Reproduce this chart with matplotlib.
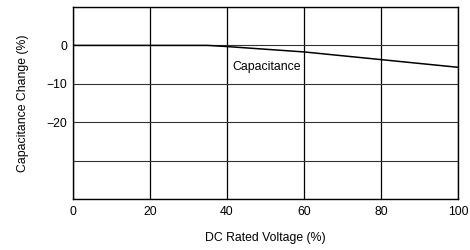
import matplotlib
matplotlib.use('Agg')
import matplotlib.pyplot as plt

VOLTAGE = [0, 20, 35, 40, 60, 80, 100]
CAP_CHANGE = [0, 0, 0, -0.3, -1.7, -3.7, -5.7]
X_TICKS = [0, 20, 40, 60, 80, 100]
Y_TICKS = [0, -10, -20]
Y_GRID = [10, 0, -10, -20, -30, -40]

plt.rcParams['font.family'] = ['Liberation Sans', 'DejaVu Sans']

fig = plt.figure(figsize=(4.7, 2.5), dpi=100)
ax = fig.add_axes([73 / 470, 1 - 199 / 250, 385 / 470, 192 / 250])

for x in X_TICKS:
    ax.axvline(x, color='black', lw=0.9, zorder=1)
for y in Y_GRID:
    ax.axhline(y, color='#333333', lw=0.8, zorder=1)

ax.plot(VOLTAGE, CAP_CHANGE, color='black', lw=1.1, zorder=3)
ax.text(41.3, -5.5, 'Capacitance', fontsize=8.8, va='center', ha='left')

ax.set_xlim(0, 100)
ax.set_ylim(-40, 10)
ax.set_xticks(X_TICKS)
ax.set_yticks(Y_TICKS)
ax.set_yticklabels(['0', '\u221210', '\u221220'])
ax.tick_params(length=0, labelsize=8.8)
ax.tick_params(axis='x', pad=5)
ax.tick_params(axis='y', pad=4)
for s in ax.spines.values():
    s.set_linewidth(1.0)

ax.set_xlabel('DC Rated Voltage (%)', fontsize=8.8, labelpad=10)
ax.set_ylabel('Capacitance Change (%)', fontsize=8.8, labelpad=13)

fig.savefig('out.png', dpi=100)
